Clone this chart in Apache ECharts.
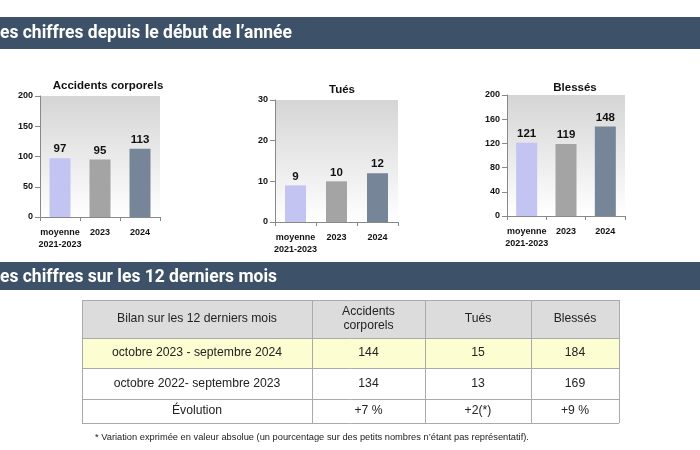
<!DOCTYPE html>
<html><head><meta charset="utf-8">
<script src="https://cdn.jsdelivr.net/npm/echarts@6/dist/echarts.min.js"></script>
<style>html,body{margin:0;padding:0;background:#fff}#c{width:700px;height:450px}</style>
</head><body><div id="c"></div>
<script>
// ---- data ----
const categories = ['moyenne\n2021-2023', '2023', '2024'];
const chartTitles = ['Accidents corporels', 'Tués', 'Blessés'];
const accidents = [97, 95, 113];
const tues = [9, 10, 12];
const blesses = [121, 119, 148];
const yMax = [200, 30, 200];
const yInterval = [50, 10, 40];
const header1 = 'es chiffres depuis le début de l’année';
const header2 = 'es chiffres sur les 12 derniers mois';
const tableHead = ['Bilan sur les 12 derniers mois', 'Accidents\ncorporels', 'Tués', 'Blessés'];
const periods = ['octobre 2023 - septembre 2024', 'octobre 2022- septembre 2023', 'Évolution'];
const rowAccidents = ['144', '134', '+7 %'];
const rowTues = ['15', '13', '+2(*)'];
const rowBlesses = ['184', '169', '+9 %'];
const footnote = '* Variation exprimée en valeur absolue (un pourcentage sur des petits nombres n’étant pas représentatif).';

// ---- layout / style ----
const barColors = ['#c4c4f2', '#a4a4a4', '#778598'];
const grids = [
  {left: 40, top: 96, width: 120, height: 121},
  {left: 275, top: 100, width: 123, height: 122},
  {left: 507, top: 95, width: 118, height: 121}
];
const titlePos = [[103, 75], [337, 79], [570, 77]];
const seriesData = [accidents, tues, blesses];
const FF = '"Liberation Sans", Arial, sans-serif';
const bgGrad = {type: 'linear', x: 0, y: 0, x2: 0, y2: 1,
  colorStops: [{offset: 0, color: '#d5d5d5'}, {offset: 1, color: '#ffffff'}]};

const option = {
  animation: false,
  backgroundColor: '#fff',
  title: chartTitles.map((t, i) => ({
    text: t, left: titlePos[i][0], top: titlePos[i][1], textAlign: 'center',
    textStyle: {fontFamily: FF, fontSize: 11.5, fontWeight: 'bold', color: '#111'}
  })),
  grid: grids.map(g => Object.assign({show: true, backgroundColor: bgGrad, borderWidth: 0}, g)),
  xAxis: grids.map((g, i) => ({
    type: 'category', gridIndex: i, data: categories,
    axisLine: {lineStyle: {color: '#888', width: 1}},
    axisTick: {show: true, length: 4, lineStyle: {color: '#888'}},
    axisLabel: {fontFamily: FF, fontSize: 9, fontWeight: 'bold', color: '#111', lineHeight: 11.5, margin: 10, interval: 0}
  })),
  yAxis: grids.map((g, i) => ({
    type: 'value', gridIndex: i, min: 0, max: yMax[i], interval: yInterval[i],
    axisLine: {show: true, lineStyle: {color: '#888', width: 1}},
    axisTick: {show: true, length: 5, lineStyle: {color: '#888'}},
    splitLine: {show: false},
    axisLabel: {fontFamily: FF, fontSize: 9, fontWeight: 'bold', color: '#111', margin: 7}
  })),
  series: seriesData.map((d, i) => ({
    type: 'bar', xAxisIndex: i, yAxisIndex: i, barWidth: 21,
    data: d.map((v, j) => ({value: v, itemStyle: {color: barColors[j]}})),
    label: {show: true, position: 'top', distance: 3, fontFamily: FF, fontSize: 11.5, fontWeight: 'bold', color: '#111'}
  })),
  graphic: []
};

const G = option.graphic;
// section headers
const hdrColor = '#3d5268';
G.push({type: 'rect', shape: {x: 0, y: 17, width: 700, height: 32}, style: {fill: hdrColor}});
G.push({type: 'text', x: 0, y: 33, scaleX: 0.92, style: {text: header1, fill: '#fff',
  font: 'bold 19px Roboto, sans-serif', textVerticalAlign: 'middle'}});
G.push({type: 'rect', shape: {x: 0, y: 262, width: 700, height: 28}, style: {fill: hdrColor}});
G.push({type: 'text', x: 0, y: 277, scaleX: 0.92, style: {text: header2, fill: '#fff',
  font: 'bold 19px Roboto, sans-serif', textVerticalAlign: 'middle'}});

// table
const colX = [82, 312, 425, 531, 619];
const rowY = [300, 338, 368, 399, 423];
const rowFill = ['#dcdcdc', '#fdfdd2', '#ffffff', '#ffffff'];
const tableRows = [tableHead].concat(periods.map((p, r) => [p, rowAccidents[r], rowTues[r], rowBlesses[r]]));
for (let r = 0; r < 4; r++) {
  G.push({type: 'rect', shape: {x: colX[0], y: rowY[r], width: colX[4] - colX[0], height: rowY[r + 1] - rowY[r]},
    style: {fill: rowFill[r]}});
}
for (let r = 0; r < 4; r++) {
  for (let c = 0; c < 4; c++) {
    G.push({type: 'text', x: (colX[c] + colX[c + 1]) / 2, y: (rowY[r] + rowY[r + 1]) / 2,
      style: {text: tableRows[r][c], fill: '#222', font: '12.2px ' + FF, textAlign: 'center',
        textVerticalAlign: 'middle', lineHeight: 14}});
  }
}
for (let r = 0; r < 5; r++) {
  G.push({type: 'line', shape: {x1: colX[0], y1: rowY[r] + 0.5, x2: colX[4], y2: rowY[r] + 0.5},
    style: {stroke: '#aaaaaa', lineWidth: 1}});
}
for (let c = 0; c < 5; c++) {
  G.push({type: 'line', shape: {x1: colX[c] + 0.5, y1: rowY[0], x2: colX[c] + 0.5, y2: rowY[4]},
    style: {stroke: '#aaaaaa', lineWidth: 1}});
}
G.push({type: 'text', x: 95, y: 437, style: {text: footnote, fill: '#222', font: '9.3px ' + FF,
  textVerticalAlign: 'middle'}});

echarts.init(document.getElementById('c')).setOption(option);
</script></body></html>
